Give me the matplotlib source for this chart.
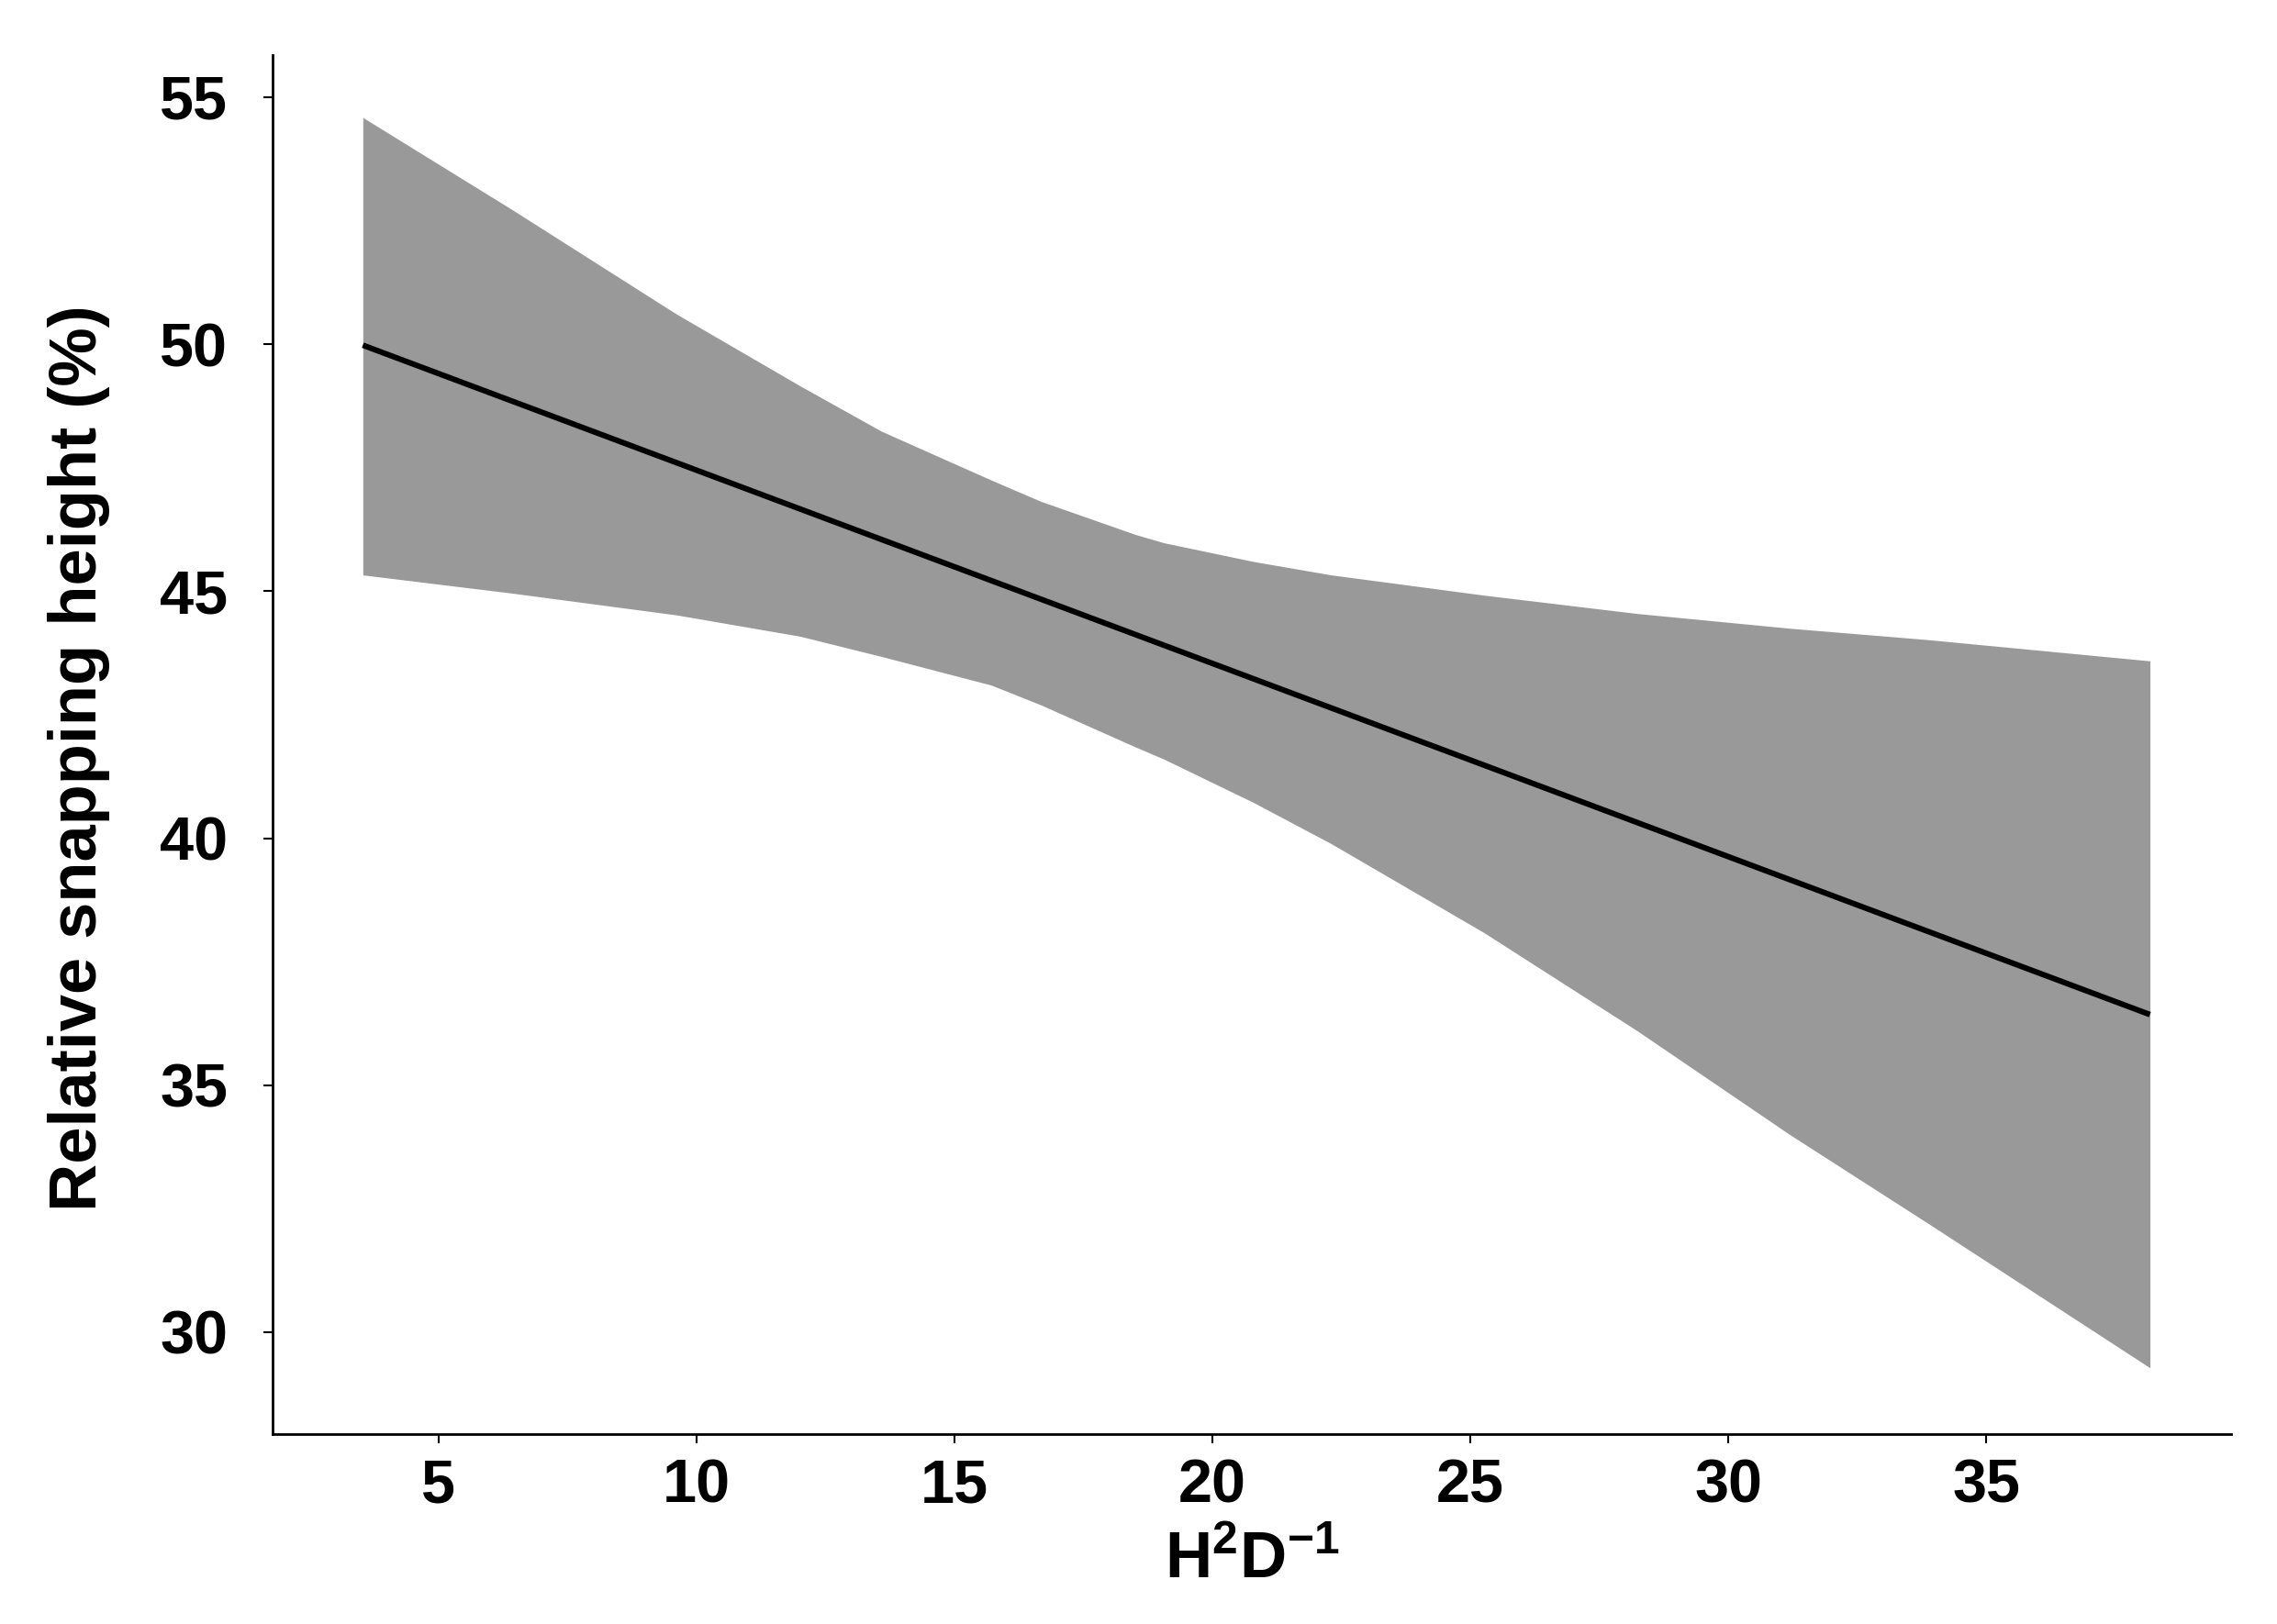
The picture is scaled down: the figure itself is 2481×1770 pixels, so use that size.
import matplotlib
matplotlib.use("Agg")
from matplotlib import pyplot as plt
import numpy as np

# regression line and its confidence band
line_x = [3.53, 38.17]
line_y = [49.98, 36.43]

band_x = [3.53, 6.43, 9.61, 12.0, 13.58, 15.71, 16.67, 18.5, 19.06,
          20.8, 22.3, 25.26, 28.22, 31.19, 33.86, 38.17]
band_upper = [54.59, 52.72, 50.61, 49.16, 48.24, 47.25, 46.82, 46.15, 45.98,
              45.6, 45.33, 44.92, 44.55, 44.25, 44.02, 43.59]
band_lower = [45.33, 44.96, 44.52, 44.09, 43.68, 43.1, 42.7, 41.85, 41.6,
              40.72, 39.89, 38.09, 36.11, 34.0, 32.21, 29.28]

x_ticks = [5, 10, 15, 20, 25, 30, 35]
y_ticks = [30, 35, 40, 45, 50, 55]

plt.rcParams['font.family'] = ['Liberation Sans', 'DejaVu Sans']
plt.rcParams['font.weight'] = 'bold'
plt.rcParams['mathtext.fontset'] = 'custom'
plt.rcParams['mathtext.rm'] = 'Liberation Sans:bold'
plt.rcParams['mathtext.it'] = 'Liberation Sans:bold'
plt.rcParams['mathtext.bf'] = 'Liberation Sans:bold'

fig = plt.figure(figsize=(24.81, 17.70), dpi=100)
ax = fig.add_axes([0.1197, 0.117, 0.8603, 0.849])

ax.fill_between(band_x, band_lower, band_upper, color='#999999', linewidth=0)
ax.plot(line_x, line_y, color='black', linewidth=4.4, solid_capstyle='butt')

ax.set_xlim(1.78, 39.75)
ax.set_ylim(27.94, 55.85)
ax.set_xticks(x_ticks)
ax.set_yticks(y_ticks)

for side in ['top', 'right']:
    ax.spines[side].set_visible(False)
for side in ['left', 'bottom']:
    ax.spines[side].set_linewidth(2.0)

ax.tick_params(axis='both', length=7, width=1.5, labelsize=48)
ax.tick_params(axis='y', pad=28)
ax.tick_params(axis='x', pad=12)
for lab in ax.get_xticklabels() + ax.get_yticklabels():
    lab.set_fontweight('bold')

ax.set_ylabel('Relative snapping height (%)', fontsize=52, fontweight='bold')
ax.yaxis.set_label_coords(-0.083, 0.49)
ax.set_xlabel(r'H$^{2}$D$^{-1}$', fontsize=51, fontweight='bold')
ax.xaxis.set_label_coords(0.5, -0.07)

fig.savefig('out.png', dpi=100)
